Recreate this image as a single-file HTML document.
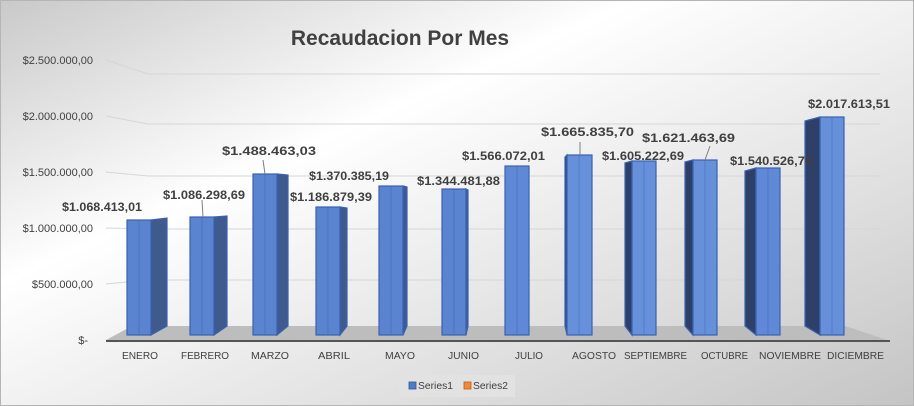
<!DOCTYPE html>
<html><head><meta charset="utf-8"><style>
html,body{margin:0;padding:0;width:914px;height:406px;overflow:hidden}
svg{display:block}
text{font-family:"Liberation Sans",sans-serif}
</style></head><body>
<svg width="914" height="406" viewBox="0 0 914 406" xmlns="http://www.w3.org/2000/svg">
<defs>
<linearGradient id="bg" x1="0" y1="0" x2="1" y2="1" gradientUnits="objectBoundingBox">
<stop offset="0" stop-color="#c9c9c9"/>
<stop offset="0.35" stop-color="#ffffff"/>
<stop offset="0.75" stop-color="#dcdcdc"/>
<stop offset="1" stop-color="#c4c4c4"/>
</linearGradient>
</defs>
<rect x="0" y="0" width="914" height="406" fill="url(#bg)"/>
<rect x="0.5" y="0.5" width="913" height="405" fill="none" stroke="#b5b5b5"/>
<text x="400" y="45" text-anchor="middle" font-size="21" font-weight="bold" fill="#404040">Recaudacion Por Mes</text>
<g stroke="#d6d6d6" stroke-width="1" fill="none">
<polyline points="106,60 148,74 880,74"/>
<polyline points="106,116 148,124 880,124"/>
<polyline points="106,172 148,176 880,176"/>
<polyline points="106,228 148,229 880,229"/>
<polyline points="106,284 148,280 880,280"/>
</g>
<g font-size="11" fill="#404040" text-anchor="end">
<text x="93" y="64">$2.500.000,00</text>
<text x="93" y="120">$2.000.000,00</text>
<text x="93" y="176">$1.500.000,00</text>
<text x="93" y="232">$1.000.000,00</text>
<text x="93" y="288">$500.000,00</text>
<text x="88" y="344">$-</text>
</g>
<polygon points="106,340 132,326 845,326 890,341" fill="#bdbdbd"/>
<line x1="106" y1="341" x2="890" y2="341" stroke="#555" stroke-width="2"/>
<g stroke="#3a62b0" stroke-width="1.2">
<polygon points="151,220 167,218 167,326 151,335" fill="#3f5a8c"/>
<polygon points="214,217 227,216 227,326 214,335" fill="#3f5a8c"/>
<polygon points="277,174 288,175 288,326 277,335" fill="#3f5a8c"/>
<polygon points="340,207 347,208 347,326 340,335" fill="#3f5a8c"/>
<polygon points="403,186 407,187 407,326 403,335" fill="#3f5a8c"/>
<polygon points="466,189 468,190 468,326 466,335" fill="#3f5a8c"/>
<polygon points="567,155 565,157 565,326 567,335" fill="#2f4068"/>
<polygon points="632,161 625,163 625,326 632,335" fill="#2f4068"/>
<polygon points="693,160 685,162 685,326 693,335" fill="#2f4068"/>
<polygon points="756,168 745,171 745,326 756,335" fill="#2f4068"/>
<polygon points="820,117 805,121 805,326 820,335" fill="#2f4068"/>
<rect x="127" y="220" width="24" height="115" fill="#5a83d0"/>
<rect x="190" y="217" width="24" height="118" fill="#5a83d0"/>
<rect x="253" y="174" width="24" height="161" fill="#5a83d0"/>
<rect x="316" y="207" width="24" height="128" fill="#5a83d0"/>
<rect x="379" y="186" width="24" height="149" fill="#5a83d0"/>
<rect x="442" y="189" width="24" height="146" fill="#5a83d0"/>
<rect x="505" y="166" width="24" height="169" fill="#5f89d6"/>
<rect x="567" y="155" width="25" height="180" fill="#6690da"/>
<rect x="632" y="161" width="24" height="174" fill="#6690da"/>
<rect x="693" y="160" width="24" height="175" fill="#6690da"/>
<rect x="756" y="168" width="24" height="167" fill="#5f89d6"/>
<rect x="820" y="117" width="24" height="218" fill="#6690da"/>
</g>
<g stroke="#3a62b0" stroke-width="0.6" opacity="0.7">
<line x1="139" y1="220" x2="139" y2="335"/><line x1="202" y1="217" x2="202" y2="335"/>
<line x1="265" y1="174" x2="265" y2="335"/><line x1="328" y1="207" x2="328" y2="335"/>
<line x1="391" y1="186" x2="391" y2="335"/><line x1="454" y1="189" x2="454" y2="335"/>
<line x1="517" y1="166" x2="517" y2="335"/><line x1="579" y1="155" x2="579" y2="335"/>
<line x1="644" y1="161" x2="644" y2="335"/><line x1="705" y1="160" x2="705" y2="335"/>
<line x1="768" y1="168" x2="768" y2="335"/><line x1="832" y1="117" x2="832" y2="335"/>
</g>
<g stroke="#7f7f7f" stroke-width="1">
<line x1="202" y1="200" x2="203" y2="217"/>
<line x1="263" y1="160" x2="265" y2="174"/>
<line x1="580" y1="142" x2="580" y2="155"/>
<line x1="710" y1="146" x2="705" y2="160"/>
</g>
<g font-size="12" font-weight="bold" fill="#404040">
<text x="62" y="211" textLength="80" lengthAdjust="spacingAndGlyphs">$1.068.413,01</text>
<text x="163" y="199" textLength="82" lengthAdjust="spacingAndGlyphs">$1.086.298,69</text>
<text x="222" y="155" textLength="94" lengthAdjust="spacingAndGlyphs">$1.488.463,03</text>
<text x="290" y="201" textLength="82" lengthAdjust="spacingAndGlyphs">$1.186.879,39</text>
<text x="309" y="180" textLength="80" lengthAdjust="spacingAndGlyphs">$1.370.385,19</text>
<text x="417" y="185" textLength="83" lengthAdjust="spacingAndGlyphs">$1.344.481,88</text>
<text x="462" y="160" textLength="83" lengthAdjust="spacingAndGlyphs">$1.566.072,01</text>
<text x="541" y="136" textLength="93" lengthAdjust="spacingAndGlyphs">$1.665.835,70</text>
<text x="602" y="160" textLength="82" lengthAdjust="spacingAndGlyphs">$1.605.222,69</text>
<text x="642" y="142" textLength="93" lengthAdjust="spacingAndGlyphs">$1.621.463,69</text>
<text x="730" y="165" textLength="82" lengthAdjust="spacingAndGlyphs">$1.540.526,76</text>
<text x="808" y="108" textLength="82" lengthAdjust="spacingAndGlyphs">$2.017.613,51</text>
</g>
<g font-size="10.5" fill="#404040">
<text x="122" y="359" textLength="36" lengthAdjust="spacingAndGlyphs">ENERO</text>
<text x="181" y="359" textLength="48" lengthAdjust="spacingAndGlyphs">FEBRERO</text>
<text x="251" y="359" textLength="38" lengthAdjust="spacingAndGlyphs">MARZO</text>
<text x="318" y="359" textLength="32" lengthAdjust="spacingAndGlyphs">ABRIL</text>
<text x="385" y="359" textLength="30" lengthAdjust="spacingAndGlyphs">MAYO</text>
<text x="448" y="359" textLength="31" lengthAdjust="spacingAndGlyphs">JUNIO</text>
<text x="515" y="359" textLength="28" lengthAdjust="spacingAndGlyphs">JULIO</text>
<text x="572" y="359" textLength="44" lengthAdjust="spacingAndGlyphs">AGOSTO</text>
<text x="624" y="359" textLength="63" lengthAdjust="spacingAndGlyphs">SEPTIEMBRE</text>
<text x="701" y="359" textLength="47" lengthAdjust="spacingAndGlyphs">OCTUBRE</text>
<text x="759" y="359" textLength="62" lengthAdjust="spacingAndGlyphs">NOVIEMBRE</text>
<text x="827" y="359" textLength="57" lengthAdjust="spacingAndGlyphs">DICIEMBRE</text>
</g>
<rect x="399" y="375" width="116" height="22" fill="#e2e2e2"/>
<rect x="409" y="382" width="7" height="7" fill="#4f7bc8" stroke="#2f5597" stroke-width="0.8"/>
<text x="418" y="389" font-size="10.5" fill="#404040" textLength="35" lengthAdjust="spacingAndGlyphs">Series1</text>
<rect x="464" y="382" width="7" height="7" fill="#ed8a3f" stroke="#c55a11" stroke-width="0.8"/>
<text x="473" y="389" font-size="10.5" fill="#404040" textLength="35" lengthAdjust="spacingAndGlyphs">Series2</text>
</svg>
</body></html>
